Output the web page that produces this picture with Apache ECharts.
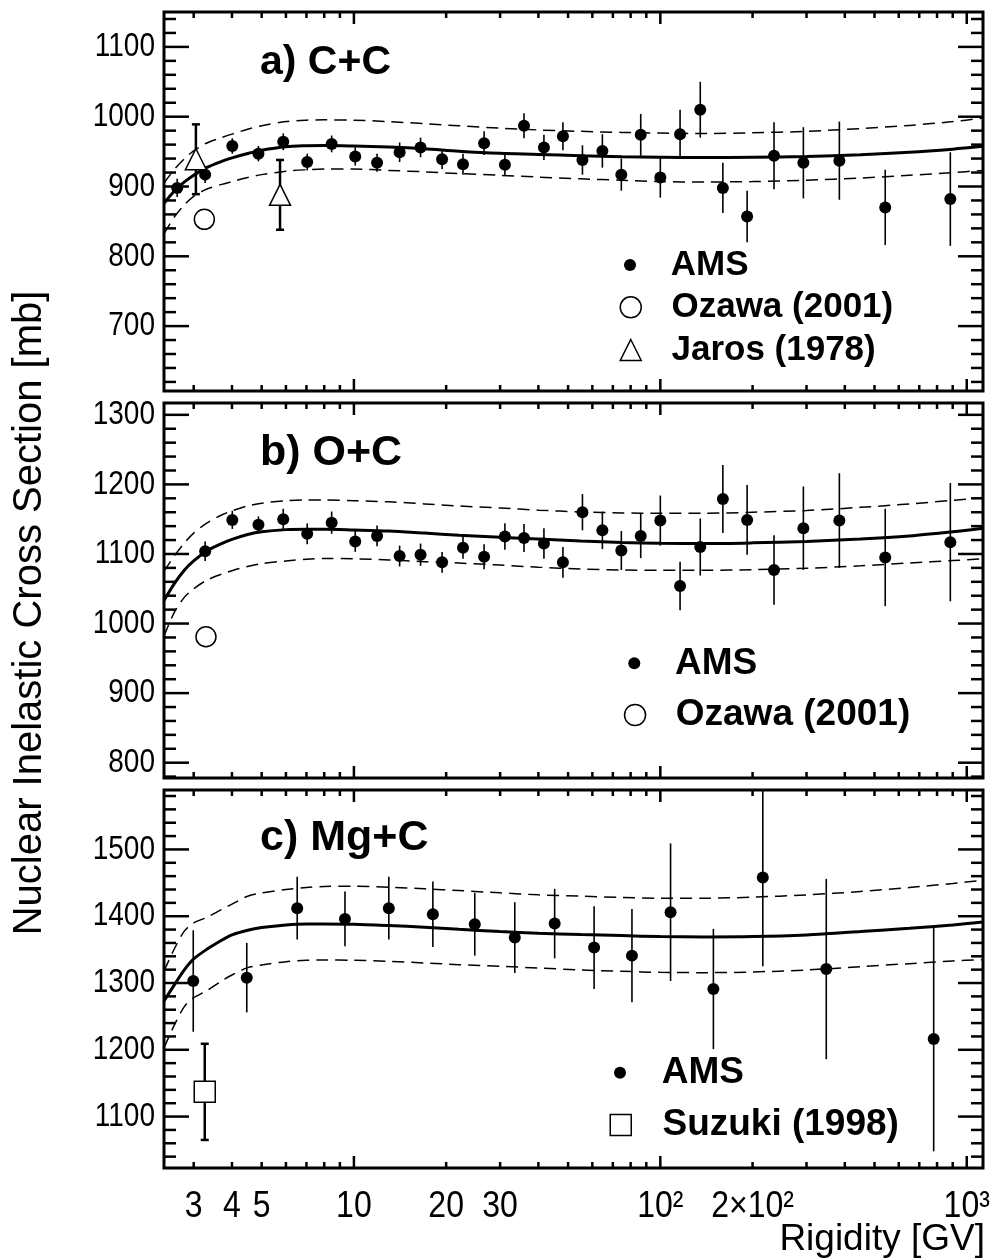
<!DOCTYPE html>
<html><head><meta charset="utf-8">
<script src="https://cdn.jsdelivr.net/npm/echarts@6/dist/echarts.min.js"></script>
<style>html,body{margin:0;padding:0;background:#fff}#c{width:990px;height:1260px}</style>
</head><body><div id="c"></div>
<script>
// ---------------- DATA ----------------
// Rigidity bins [GV]
const rigA = [2.65, 3.27, 4.01, 4.88, 5.88, 7.04, 8.46, 10.1, 11.9, 14.1, 16.5, 19.4, 22.7, 26.6, 31.1, 35.9, 41.7, 48.1, 55.7, 64.7, 74.6, 86.3, 100, 116, 135, 160, 192, 235, 293, 384, 542, 884];
const csA  = [898, 917, 958, 947, 964, 935, 961, 943, 934, 949, 956, 939, 932, 962, 931, 987, 956, 972, 938, 951, 917, 974, 913, 975, 1010, 898, 857, 944, 934, 937, 870, 882];
const errA = [13, 12, 11, 11, 12, 12, 12, 13, 13, 14, 14, 14, 15, 17, 16, 18, 18, 20, 21, 24, 23, 30, 29, 35, 40, 36, 37, 48, 51, 56, 54, 67];

const rigB = [3.27, 4.01, 4.88, 5.88, 7.04, 8.46, 10.1, 11.9, 14.1, 16.5, 19.4, 22.7, 26.6, 31.1, 35.9, 41.7, 48.1, 55.7, 64.7, 74.6, 86.3, 100, 116, 135, 160, 192, 235, 293, 384, 542, 884];
const csB  = [1104, 1149, 1142, 1150, 1129, 1145, 1118, 1126, 1097, 1099, 1088, 1109, 1096, 1125, 1123, 1115, 1088, 1160, 1134, 1105, 1126, 1148, 1054, 1110, 1179, 1149, 1077, 1137, 1148, 1095, 1117];
const errB = [14, 13, 12, 15, 15, 16, 15, 15, 15, 16, 15, 16, 18, 19, 20, 22, 22, 26, 27, 28, 32, 36, 35, 41, 49, 50, 50, 60, 68, 70, 85];

const rigC = [2.99, 4.47, 6.53, 9.35, 13.0, 18.1, 24.8, 33.5, 45.2, 60.8, 80.8, 108, 149, 216, 348, 780];
const csC  = [1303, 1308, 1412, 1396, 1412, 1403, 1388, 1368, 1389, 1353, 1341, 1406, 1291, 1458, 1321, 1216];
const errC = [76, 52, 47, 41, 47, 49, 47, 53, 52, 62, 70, 103, 90, 133, 135, 168];

// other experiments
const ozawaA_x = [3.25], ozawaA_y = [853];
const ozawaB_x = [3.29], ozawaB_y = [981];
const jaros_x = [3.05, 5.74], jaros_y = [939, 888], jaros_err = [50, 50];
const suzuki_x = [3.26], suzuki_y = [1137], suzuki_err = [72];

// fit curves (solid) and uncertainty bands (dashed)
const curveX = [2.4, 2.6, 2.8, 3.0, 3.3, 3.7, 4, 4.5, 5, 6, 7, 8, 10, 13, 17, 22, 30, 40, 55, 75, 100, 140, 200, 300, 450, 650, 900, 1130];
const fitA    = [876, 894, 906.5, 916, 927, 936, 941, 947.3, 952, 957, 958.4, 958.8, 958, 956.5, 954, 950.5, 947.5, 946, 944, 942.5, 942, 941.5, 942, 943, 945.5, 949, 953.5, 957.5];
const fitA_hi = [905, 925, 940, 951, 962, 970, 975, 982, 987, 993, 995, 995.5, 995, 993, 990, 987, 983.5, 981, 979, 977.5, 976.5, 976, 977, 979, 983, 987.5, 993, 998];
const fitA_lo = [832, 857, 874, 886, 896, 903, 907, 913, 917, 922, 924, 925, 925, 923, 921, 918.5, 916, 913.5, 911, 909, 907, 906.5, 907, 909, 912, 916, 920, 923];
const fitB    = [1033, 1058, 1077, 1090, 1104, 1115, 1121, 1128, 1132, 1135, 1135.5, 1135.5, 1134.5, 1133, 1130, 1127, 1124, 1121.5, 1118.5, 1116.5, 1115.5, 1115, 1116, 1118, 1121.5, 1126, 1132, 1137];
const fitB_hi = [1075, 1098, 1116, 1130, 1144, 1156, 1162, 1169, 1173, 1176.5, 1177.5, 1177.5, 1176.5, 1175, 1172, 1169, 1166, 1163, 1160.5, 1159, 1158.5, 1158.5, 1160, 1162.5, 1167, 1172, 1177, 1181];
const fitB_lo = [982, 1017, 1038, 1050, 1062, 1071, 1076, 1082, 1086, 1090, 1092.5, 1093.5, 1093, 1091.5, 1089, 1087, 1084, 1081, 1078.5, 1077, 1076.5, 1076.5, 1077.5, 1079.5, 1083, 1087, 1090.5, 1093];
const fitC    = [1273, 1298, 1320, 1336, 1350, 1364, 1372, 1379, 1383, 1387, 1388.5, 1388.5, 1388, 1386, 1383.5, 1380.5, 1377, 1374.5, 1372.5, 1371, 1369.5, 1369, 1369.5, 1372, 1377, 1382, 1387, 1391.5];
const fitC_hi = [1318, 1352, 1378, 1390, 1398, 1410, 1418, 1430, 1435, 1440, 1443, 1444.5, 1445, 1443.5, 1441, 1438.5, 1435, 1432, 1430, 1428, 1427, 1427, 1428.5, 1432, 1437, 1443, 1449, 1454];
const fitC_lo = [1203, 1238, 1265, 1278, 1288, 1303, 1312, 1323, 1327, 1332, 1334, 1334.5, 1334, 1332.5, 1330, 1327.5, 1325, 1322.5, 1319.5, 1317.5, 1316, 1315.5, 1316.5, 1319.5, 1324.5, 1329, 1333, 1335];

// axes
const xRange = [2.4, 1130];
const xMajorTicks = [10, 100, 1000];
const xMinorTicks = [3, 4, 5, 6, 7, 8, 9, 20, 30, 40, 50, 60, 70, 80, 90, 200, 300, 400, 500, 600, 700, 800, 900];
const xLabelVals = [3, 4, 5, 10, 20, 30, 100, 200, 1000];
const xLabelText = ['3', '4', '5', '10', '20', '30', '10\u00B2', '2\u00D710\u00B2', '10\u00B3'];
const yRangeA = [607, 1150], yMajorA = [700, 800, 900, 1000, 1100];
const yRangeB = [778, 1317], yMajorB = [800, 900, 1000, 1100, 1200, 1300];
const yRangeC = [1023, 1589], yMajorC = [1100, 1200, 1300, 1400, 1500];
const yMinorStep = 20;

// ---------------- CHART ----------------
const FONT = '"Liberation Sans", Arial, Helvetica, sans-serif';
const zip = (xs, ys) => xs.map((x, i) => [x, ys[i]]);
const zip3 = (xs, ys, es) => xs.map((x, i) => [x, ys[i], es[i]]);

function minorList(range, majors) {
  const out = [];
  for (let v = Math.ceil(range[0] / yMinorStep) * yMinorStep; v <= range[1]; v += yMinorStep) {
    if (majors.indexOf(v) < 0) out.push(v);
  }
  return out;
}

function errBarRender(capHalf, lw) {
  return function (params, api) {
    const x = api.value(0), y = api.value(1), e = api.value(2);
    const lo = api.coord([x, y - e]), hi = api.coord([x, y + e]);
    const st = { stroke: '#000', lineWidth: lw };
    const ch = [{ type: 'line', shape: { x1: lo[0], y1: lo[1], x2: hi[0], y2: hi[1] }, style: st }];
    if (capHalf > 0) {
      ch.push({ type: 'line', shape: { x1: lo[0] - capHalf, y1: lo[1], x2: lo[0] + capHalf, y2: lo[1] }, style: st });
      ch.push({ type: 'line', shape: { x1: hi[0] - capHalf, y1: hi[1], x2: hi[0] + capHalf, y2: hi[1] }, style: st });
    }
    return { type: 'group', children: ch };
  };
}

function yTickRender(params, api) {
  const v = api.value(1), major = api.value(2);
  const cs = params.coordSys;
  const y = api.coord([xRange[0], v])[1];
  const len = major ? 25 : 12;
  const st = { stroke: '#000', lineWidth: 2.5 };
  const ch = [
    { type: 'line', shape: { x1: cs.x, y1: y, x2: cs.x + len, y2: y }, style: st },
    { type: 'line', shape: { x1: cs.x + cs.width - len, y1: y, x2: cs.x + cs.width, y2: y }, style: st }
  ];
  if (major) {
    ch.push({ type: 'text', x: cs.x - 9, y: y, scaleY: 1.2, style: { text: String(v), font: '28px ' + FONT, fill: '#000', align: 'right', verticalAlign: 'middle', textAlign: 'right', textVerticalAlign: 'middle' } });
  }
  return { type: 'group', children: ch };
}

function xTickRender(params, api) {
  const v = api.value(0), major = api.value(2);
  const cs = params.coordSys;
  const x = api.coord([v, api.value(1)])[0];
  const len = major ? 12 : 6;
  const st = { stroke: '#000', lineWidth: 2.5 };
  return { type: 'group', children: [
    { type: 'line', shape: { x1: x, y1: cs.y + cs.height, x2: x, y2: cs.y + cs.height - len }, style: st },
    { type: 'line', shape: { x1: x, y1: cs.y, x2: x, y2: cs.y + len }, style: st }
  ] };
}

function xLabelRender(params, api) {
  const v = api.value(0);
  const cs = params.coordSys;
  const x = api.coord([v, api.value(1)])[0];
  return { type: 'text', x: x, y: cs.y + cs.height + 39, scaleY: 1.15, style: { text: xLabelText[params.dataIndex], font: '32px ' + FONT, fill: '#000', align: 'center', verticalAlign: 'middle', textAlign: 'center', textVerticalAlign: 'middle' } };
}

const grids = [
  { left: 164, width: 819, top: 12, height: 379 },
  { left: 164, width: 819, top: 403, height: 375 },
  { left: 164, width: 819, top: 790, height: 378 }
].map(g => Object.assign(g, { show: true, borderColor: '#000', borderWidth: 3, backgroundColor: 'transparent' }));

const yRanges = [yRangeA, yRangeB, yRangeC];
const yMajors = [yMajorA, yMajorB, yMajorC];

const xAxes = [0, 1, 2].map(i => ({ type: 'log', logBase: 10, gridIndex: i, min: xRange[0], max: xRange[1], show: false }));
const yAxes = [0, 1, 2].map(i => ({ type: 'value', gridIndex: i, min: yRanges[i][0], max: yRanges[i][1], show: false, scale: true }));

const series = [];
const lineS = (i, name, xs, ys, solid) => ({
  type: 'line', name: name, xAxisIndex: i, yAxisIndex: i, data: zip(xs, ys), showSymbol: false, symbol: 'none',
  smooth: 0.3, silent: true, z: 3,
  lineStyle: solid ? { color: '#000', width: 3 } : { color: '#000', width: 1.5, type: [12, 7] }
});
const amsErr = (i, xs, ys, es) => ({ type: 'custom', xAxisIndex: i, yAxisIndex: i, data: zip3(xs, ys, es), encode: { x: 0, y: 1 }, renderItem: errBarRender(0, 1.6), clip: true, silent: true, z: 4 });
const amsPts = (i, xs, ys) => ({ type: 'scatter', name: 'AMS', xAxisIndex: i, yAxisIndex: i, data: zip(xs, ys), symbol: 'circle', symbolSize: 12, itemStyle: { color: '#000', opacity: 1 }, silent: true, z: 5 });
const openPts = (i, name, sym, size, xs, ys) => ({ type: 'scatter', name: name, xAxisIndex: i, yAxisIndex: i, data: zip(xs, ys), symbol: sym, symbolSize: size, itemStyle: { color: '#fff', borderColor: '#000', borderWidth: 1.5, opacity: 1 }, silent: true, z: 6 });
const capErr = (i, xs, ys, es) => ({ type: 'custom', xAxisIndex: i, yAxisIndex: i, data: zip3(xs, ys, es), encode: { x: 0, y: 1 }, renderItem: errBarRender(4, 2.5), clip: true, silent: true, z: 5 });

// panel a
series.push(lineS(0, 'fitA', curveX, fitA, true), lineS(0, 'fitA_hi', curveX, fitA_hi, false), lineS(0, 'fitA_lo', curveX, fitA_lo, false));
series.push(amsErr(0, rigA, csA, errA), amsPts(0, rigA, csA));
series.push(openPts(0, 'Ozawa (2001)', 'circle', 20, ozawaA_x, ozawaA_y));
series.push(capErr(0, jaros_x, jaros_y, jaros_err), openPts(0, 'Jaros (1978)', 'triangle', 21, jaros_x, jaros_y));
// panel b
series.push(lineS(1, 'fitB', curveX, fitB, true), lineS(1, 'fitB_hi', curveX, fitB_hi, false), lineS(1, 'fitB_lo', curveX, fitB_lo, false));
series.push(amsErr(1, rigB, csB, errB), amsPts(1, rigB, csB));
series.push(openPts(1, 'Ozawa (2001)', 'circle', 20, ozawaB_x, ozawaB_y));
// panel c
series.push(lineS(2, 'fitC', curveX, fitC, true), lineS(2, 'fitC_hi', curveX, fitC_hi, false), lineS(2, 'fitC_lo', curveX, fitC_lo, false));
series.push(amsErr(2, rigC, csC, errC), amsPts(2, rigC, csC));
series.push(capErr(2, suzuki_x, suzuki_y, suzuki_err), openPts(2, 'Suzuki (1998)', 'rect', 21, suzuki_x, suzuki_y));

// ticks and labels
for (let i = 0; i < 3; i++) {
  const yt = yMajors[i].map(v => [xRange[0], v, 1]).concat(minorList(yRanges[i], yMajors[i]).map(v => [xRange[0], v, 0]));
  series.push({ type: 'custom', xAxisIndex: i, yAxisIndex: i, data: yt, encode: { x: 0, y: 1 }, renderItem: yTickRender, clip: false, silent: true, z: 10 });
  const xt = xMajorTicks.map(v => [v, yRanges[i][0], 1]).concat(xMinorTicks.map(v => [v, yRanges[i][0], 0]));
  series.push({ type: 'custom', xAxisIndex: i, yAxisIndex: i, data: xt, encode: { x: 0, y: 1 }, renderItem: xTickRender, clip: false, silent: true, z: 10 });
}
series.push({ type: 'custom', xAxisIndex: 2, yAxisIndex: 2, data: xLabelVals.map(v => [v, yRangeC[0]]), encode: { x: 0, y: 1 }, renderItem: xLabelRender, clip: false, silent: true, z: 10 });

const legTxt = (size, pad) => ({ fontFamily: FONT, fontWeight: 'bold', fontSize: size, color: '#000', padding: [0, 0, 0, pad] });
const openStyle = { color: '#fff', borderColor: '#000', borderWidth: 1.5, opacity: 1 };
const amsIcon = { name: 'AMS', icon: 'circle', itemStyle: { color: '#000', borderWidth: 0, opacity: 1 } };
const legends = [
  { left: 624, top: 247.5, itemWidth: 12, itemHeight: 12, data: [amsIcon], textStyle: legTxt(35, 29.7) },
  { left: 619.5, top: 289.8, itemWidth: 21, itemHeight: 21, itemGap: 7.7, data: [{ name: 'Ozawa (2001)', icon: 'circle', itemStyle: openStyle }, { name: 'Jaros (1978)', icon: 'triangle', itemStyle: openStyle }], textStyle: legTxt(35, 25.2) },
  { left: 628.3, top: 644.8, itemWidth: 12, itemHeight: 12, data: [amsIcon], textStyle: legTxt(37, 29.7) },
  { left: 623.8, top: 696.5, itemWidth: 21, itemHeight: 21, data: [{ name: 'Ozawa (2001)', icon: 'circle', itemStyle: openStyle }], textStyle: legTxt(37, 25.2) },
  { left: 614, top: 1054.2, itemWidth: 12, itemHeight: 12, data: [amsIcon], textStyle: legTxt(37, 30.7) },
  { left: 609.5, top: 1106.5, itemWidth: 21, itemHeight: 21, data: [{ name: 'Suzuki (1998)', icon: 'rect', itemStyle: openStyle }], textStyle: legTxt(37, 26.2) }
].map(l => Object.assign({ show: true, orient: 'vertical', padding: 0, selectedMode: false, itemGap: 0 }, l));

const txt = (text, x, y, size, weight, align, extra) => Object.assign({
  type: 'text', x: x, y: y, silent: true, z: 20,
  style: { text: text, font: weight + ' ' + size + 'px ' + FONT, fill: '#000', align: align, verticalAlign: 'middle', textAlign: align, textVerticalAlign: 'middle' }
}, extra || {});

const option = {
  animation: false,
  backgroundColor: '#fff',
  grid: grids,
  xAxis: xAxes,
  yAxis: yAxes,
  legend: legends,
  series: series,
  graphic: [
    txt('a) C+C', 260, 63, 41, 'bold', 'left'),
    txt('b) O+C', 260, 453, 43, 'bold', 'left'),
    txt('c) Mg+C', 260, 838, 43, 'bold', 'left'),
    txt('Rigidity [GV]', 985, 1240, 37, 'normal', 'right'),
    txt('Nuclear Inelastic Cross Section [mb]', 30, 613, 40, 'normal', 'center', { rotation: Math.PI / 2 })
  ]
};

const chart = echarts.init(document.getElementById('c'), null, { renderer: 'canvas', width: 990, height: 1260 });
chart.setOption(option);
</script>
</body></html>
